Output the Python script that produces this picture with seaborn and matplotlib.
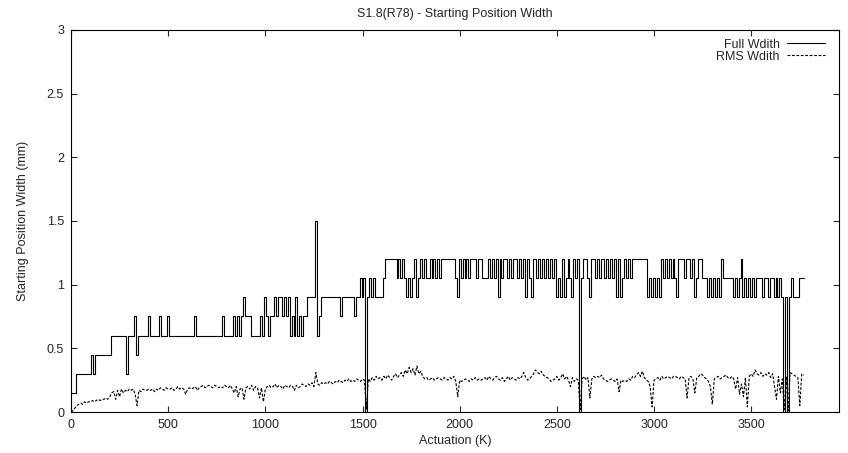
import numpy as np
import pandas as pd
import seaborn as sns
from matplotlib import pyplot as plt

# actuation (K), sampled every 10K
actuation = np.arange(0, 3780, 10)

# full width, in steps of 0.15 mm
full_steps = [
    1, 1, 1, 2, 2, 2, 2, 2, 2, 2,
    2, 3, 2, 3, 3, 3, 3, 3, 3, 3,
    3, 4, 4, 4, 4, 4, 4, 4, 4, 2,
    4, 4, 4, 5, 3, 4, 4, 4, 4, 4,
    5, 4, 4, 4, 4, 4, 5, 4, 4, 4,
    5, 4, 4, 4, 4, 4, 4, 4, 4, 4,
    4, 4, 4, 4, 5, 4, 4, 4, 4, 4,
    4, 4, 4, 4, 4, 4, 4, 4, 5, 4,
    4, 4, 4, 4, 5, 4, 5, 4, 5, 6,
    5, 5, 5, 4, 4, 4, 4, 4, 5, 4,
    6, 5, 4, 5, 5, 6, 5, 6, 6, 5,
    6, 5, 6, 4, 5, 4, 6, 4, 5, 4,
    5, 5, 6, 6, 6, 6, 10, 4, 5, 6,
    6, 6, 6, 6, 6, 6, 6, 6, 6, 5,
    6, 6, 6, 6, 6, 6, 5, 6, 6, 7,
    6, 7, 0, 6, 7, 6, 7, 6, 6, 6,
    6, 7, 8, 8, 8, 8, 8, 8, 7, 8,
    7, 8, 7, 6, 7, 6, 7, 8, 6, 7,
    8, 7, 8, 7, 7, 8, 7, 8, 7, 8,
    7, 8, 8, 8, 8, 8, 8, 8, 7, 6,
    8, 7, 8, 7, 8, 7, 8, 8, 8, 7,
    8, 8, 7, 7, 7, 8, 7, 8, 7, 8,
    6, 8, 7, 8, 8, 7, 8, 7, 8, 8,
    7, 8, 7, 8, 6, 8, 7, 6, 8, 8,
    7, 8, 7, 8, 7, 8, 7, 8, 7, 8,
    6, 7, 6, 8, 6, 7, 8, 7, 6, 8,
    7, 8, 0, 7, 8, 8, 7, 6, 8, 8,
    7, 8, 7, 8, 8, 7, 8, 7, 8, 7,
    8, 6, 8, 6, 7, 8, 7, 8, 7, 8,
    8, 8, 8, 8, 8, 8, 8, 6, 7, 6,
    7, 6, 7, 6, 8, 7, 8, 7, 8, 7,
    8, 7, 6, 8, 8, 8, 7, 8, 8, 7,
    8, 6, 7, 8, 8, 7, 7, 7, 6, 7,
    6, 7, 6, 7, 6, 8, 7, 7, 7, 7,
    7, 6, 7, 6, 7, 8, 6, 7, 6, 7,
    6, 7, 6, 7, 7, 7, 6, 7, 7, 6,
    7, 7, 6, 7, 6, 7, 6, 0, 6, 0,
    6, 7, 6, 6, 6, 7, 7, 7,
]

# rms width (mm)
rms_width = [
    0.00, 0.01, 0.03, 0.05, 0.06, 0.07, 0.06, 0.08, 0.07, 0.08,
    0.08, 0.09, 0.08, 0.09, 0.10, 0.09, 0.10, 0.10, 0.11, 0.10,
    0.12, 0.15, 0.16, 0.10, 0.17, 0.12, 0.18, 0.15, 0.17, 0.16,
    0.18, 0.17, 0.18, 0.14, 0.05, 0.17, 0.16, 0.18, 0.17, 0.17,
    0.18, 0.17, 0.18, 0.16, 0.18, 0.17, 0.19, 0.18, 0.17, 0.19,
    0.18, 0.18, 0.19, 0.17, 0.18, 0.20, 0.18, 0.19, 0.18, 0.14,
    0.18, 0.19, 0.18, 0.19, 0.20, 0.17, 0.19, 0.20, 0.21, 0.19,
    0.20, 0.21, 0.20, 0.19, 0.21, 0.20, 0.19, 0.20, 0.19, 0.21,
    0.20, 0.19, 0.21, 0.18, 0.15, 0.20, 0.12, 0.18, 0.19, 0.10,
    0.19, 0.20, 0.18, 0.21, 0.17, 0.20, 0.19, 0.11, 0.19, 0.08,
    0.18, 0.20, 0.21, 0.19, 0.20, 0.22, 0.19, 0.21, 0.20, 0.18,
    0.21, 0.20, 0.19, 0.21, 0.20, 0.17, 0.21, 0.19, 0.20, 0.22,
    0.21, 0.20, 0.22, 0.21, 0.23, 0.20, 0.31, 0.22, 0.21, 0.23,
    0.22, 0.23, 0.22, 0.24, 0.23, 0.22, 0.24, 0.23, 0.25, 0.24,
    0.23, 0.25, 0.24, 0.26, 0.24, 0.25, 0.24, 0.26, 0.25, 0.24,
    0.26, 0.25, 0.02, 0.26, 0.24, 0.27, 0.25, 0.28, 0.26, 0.27,
    0.25, 0.28, 0.26, 0.29, 0.27, 0.25, 0.28, 0.30, 0.27, 0.29,
    0.31, 0.28, 0.33, 0.30, 0.35, 0.31, 0.34, 0.29, 0.36, 0.30,
    0.32, 0.28, 0.26, 0.27, 0.25, 0.26, 0.27, 0.25, 0.26, 0.27,
    0.26, 0.25, 0.27, 0.26, 0.25, 0.27, 0.26, 0.28, 0.24, 0.12,
    0.25, 0.24, 0.25, 0.26, 0.25, 0.24, 0.26, 0.25, 0.27, 0.25,
    0.26, 0.25, 0.26, 0.27, 0.25, 0.28, 0.26, 0.25, 0.27, 0.28,
    0.26, 0.25, 0.27, 0.24, 0.26, 0.28, 0.25, 0.27, 0.26, 0.25,
    0.27, 0.26, 0.28, 0.31, 0.27, 0.25, 0.26, 0.28, 0.30, 0.33,
    0.31, 0.30, 0.32, 0.29, 0.28, 0.27, 0.26, 0.24, 0.25, 0.26,
    0.28, 0.25, 0.27, 0.30, 0.26, 0.28, 0.25, 0.20, 0.27, 0.24,
    0.26, 0.25, 0.02, 0.26, 0.28, 0.25, 0.27, 0.11, 0.26, 0.28,
    0.27, 0.28, 0.27, 0.29, 0.26, 0.25, 0.24, 0.25, 0.26, 0.25,
    0.24, 0.26, 0.16, 0.25, 0.24, 0.25, 0.24, 0.26, 0.25, 0.28,
    0.27, 0.29, 0.31, 0.28, 0.32, 0.27, 0.25, 0.24, 0.20, 0.04,
    0.25, 0.26, 0.27, 0.25, 0.28, 0.26, 0.27, 0.28, 0.27, 0.26,
    0.28, 0.28, 0.27, 0.26, 0.28, 0.27, 0.26, 0.11, 0.27, 0.28,
    0.26, 0.15, 0.27, 0.28, 0.30, 0.29, 0.27, 0.26, 0.24, 0.20,
    0.06, 0.26, 0.27, 0.28, 0.26, 0.27, 0.28, 0.29, 0.27, 0.26,
    0.28, 0.26, 0.18, 0.27, 0.14, 0.22, 0.12, 0.27, 0.04, 0.28,
    0.30, 0.28, 0.33, 0.30, 0.29, 0.31, 0.28, 0.30, 0.29, 0.31,
    0.27, 0.30, 0.20, 0.10, 0.28, 0.15, 0.26, 0.02, 0.28, 0.01,
    0.31, 0.30, 0.29, 0.28, 0.27, 0.05, 0.30, 0.29,
]

df = pd.DataFrame({
    'actuation': actuation,
    'full': np.array(full_steps) * 0.15,
    'rms': rms_width,
})

sns.set_style('ticks')
plt.rcParams['font.family'] = ['Liberation Sans', 'DejaVu Sans']

fig = plt.figure(figsize=(8.48, 4.53), dpi=100)
ax = fig.add_axes([0.0837, 0.0905, 0.9053, 0.8435])

sns.lineplot(x='actuation', y='full', data=df, ax=ax, color='black',
             linewidth=0.8, drawstyle='steps-mid', label='Full Wdith')
sns.lineplot(x='actuation', y='rms', data=df, ax=ax, color='black',
             linewidth=0.8, linestyle=(0, (2.5, 1.5)), label='RMS Wdith')

ax.set_xlim(0, 3950)
ax.set_ylim(0, 3)
ax.set_xticks(range(0, 4000, 500))
ax.set_yticks([0, 0.5, 1, 1.5, 2, 2.5, 3])
ax.set_yticklabels(['0', '0.5', '1', '1.5', '2', '2.5', '3'])
ax.tick_params(direction='in', top=True, right=True, length=4, width=0.8,
               labelsize=9, pad=5)
for s in ax.spines.values():
    s.set_linewidth(0.8)
    s.set_color('black')

ax.set_title('S1.8(R78) - Starting Position Width', fontsize=9, pad=9)
ax.set_xlabel('Actuation (K)', fontsize=9, labelpad=3)
ax.set_ylabel('Starting Position Width (mm)', fontsize=9, labelpad=13)

ax.legend(loc='upper right', bbox_to_anchor=(0.9935, 1.0), frameon=False,
          markerfirst=False, fontsize=9, handlelength=3.0, labelspacing=0.0,
          borderaxespad=0.3, handletextpad=0.6)

fig.savefig('out.png', dpi=100)
